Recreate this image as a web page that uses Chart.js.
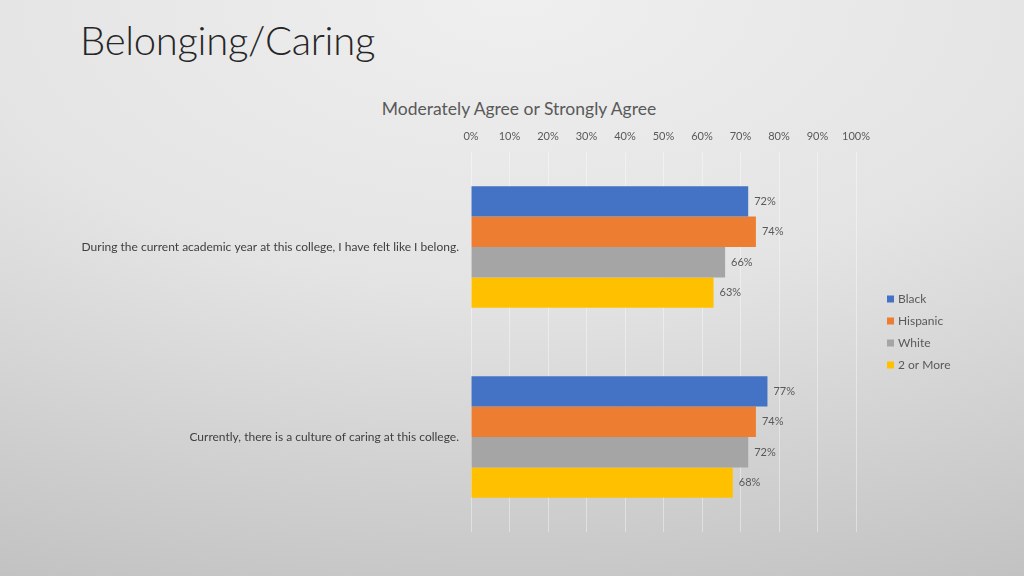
<!DOCTYPE html>
<html>
<head>
<meta charset="utf-8">
<script src="https://cdn.jsdelivr.net/npm/chart.js@4"></script>
<style>
  html, body { margin: 0; padding: 0; }
  body {
    width: 1024px; height: 576px; overflow: hidden; position: relative;
    background: radial-gradient(ellipse 120% 110% at 50% 0%, #efefef 0%, #e4e4e4 45%, #c2c2c2 100%);
    font-family: Lato, "Open Sans", sans-serif;
  }
  h1 {
    position: absolute; left: 80px; top: 16px; margin: 0;
    font-weight: 300; font-size: 40px; color: #262626; letter-spacing: -0.3px;
  }
  #chartTitle {
    position: absolute; left: 319px; width: 400px; top: 98px;
    text-align: center; font-size: 17.5px; line-height: 22px; color: #595959;
  }
  #wrap { position: absolute; left: 0; top: 0; width: 1024px; height: 576px; }
</style>
</head>
<body>
<h1>Belonging/Caring</h1>
<div id="chartTitle">Moderately Agree or Strongly Agree</div>
<div id="wrap"><canvas id="belongChart" width="1024" height="576"></canvas></div>
<script>
/* ===============================
   DATA
================================ */
const questions = [
  "During the current academic year at this college, I have felt like I belong.",
  "Currently, there is a culture of caring at this college."
];
const groups = ["Black", "Hispanic", "White", "2 or More"];
const black = [72, 77];
const hispanic = [74, 74];
const white = [66, 72];
const twoOrMore = [63, 68];
const groupColors = ["#4472c4", "#ed7d31", "#a5a5a5", "#ffc000"];

const TEXT = "#595959";
const FONT = "Lato, 'Open Sans', sans-serif";

/* ===============================
   LABELS AT BAR ENDS
================================ */
const barLabels = {
  id: "barLabels",
  afterDatasetsDraw(chart) {
    const ctx = chart.ctx;
    ctx.save();
    ctx.font = "11px " + FONT;
    ctx.fillStyle = TEXT;
    ctx.textAlign = "left";
    ctx.textBaseline = "middle";
    chart.data.datasets.forEach((ds, i) => {
      chart.getDatasetMeta(i).data.forEach((bar, j) => {
        ctx.fillText(ds.data[j] + "%", bar.x + 6, bar.y);
      });
    });
    ctx.restore();
  }
};

/* ===============================
   LEGEND ON THE RIGHT
================================ */
const sideLegend = {
  id: "sideLegend",
  afterDraw(chart) {
    const ctx = chart.ctx;
    const area = chart.chartArea;
    const x = area.right + 31;
    let y = area.top + 147;
    ctx.save();
    ctx.font = "12px " + FONT;
    ctx.textBaseline = "middle";
    chart.data.datasets.forEach(ds => {
      ctx.fillStyle = ds.backgroundColor;
      ctx.fillRect(x, y - 3.5, 7, 7);
      ctx.fillStyle = TEXT;
      ctx.fillText(ds.label, x + 11, y);
      y += 22;
    });
    ctx.restore();
  }
};

/* ===============================
   CHART
================================ */
const datasets = [black, hispanic, white, twoOrMore].map((vals, i) => ({
  label: groups[i],
  data: vals,
  backgroundColor: groupColors[i],
  borderWidth: 0,
  barPercentage: 1,
  categoryPercentage: 0.64
}));

new Chart(document.getElementById("belongChart"), {
  type: "bar",
  data: { labels: questions, datasets },
  plugins: [barLabels, sideLegend],
  options: {
    indexAxis: "y",
    responsive: false,
    animation: false,
    layout: { padding: { left: 0, right: 168, top: 119, bottom: 44 } },
    plugins: {
      legend: { display: false },
      tooltip: { enabled: false },
      title: { display: false }
    },
    scales: {
      x: {
        position: "top",
        min: 0,
        max: 100,
        ticks: {
          stepSize: 10,
          color: TEXT,
          padding: 9,
          font: { family: FONT, size: 11 },
          callback: v => v + "%"
        },
        grid: { color: "rgba(255,255,255,0.4)", lineWidth: 1, drawTicks: false },
        border: { display: false },
        afterFit(scale) { scale.height = 33; }
      },
      y: {
        ticks: {
          color: "#404040",
          padding: 12,
          font: { family: FONT, size: 12 }
        },
        grid: { display: false, drawTicks: false },
        border: { display: false },
        afterFit(scale) { scale.width = 471; }
      }
    }
  }
});
</script>
</body>
</html>
